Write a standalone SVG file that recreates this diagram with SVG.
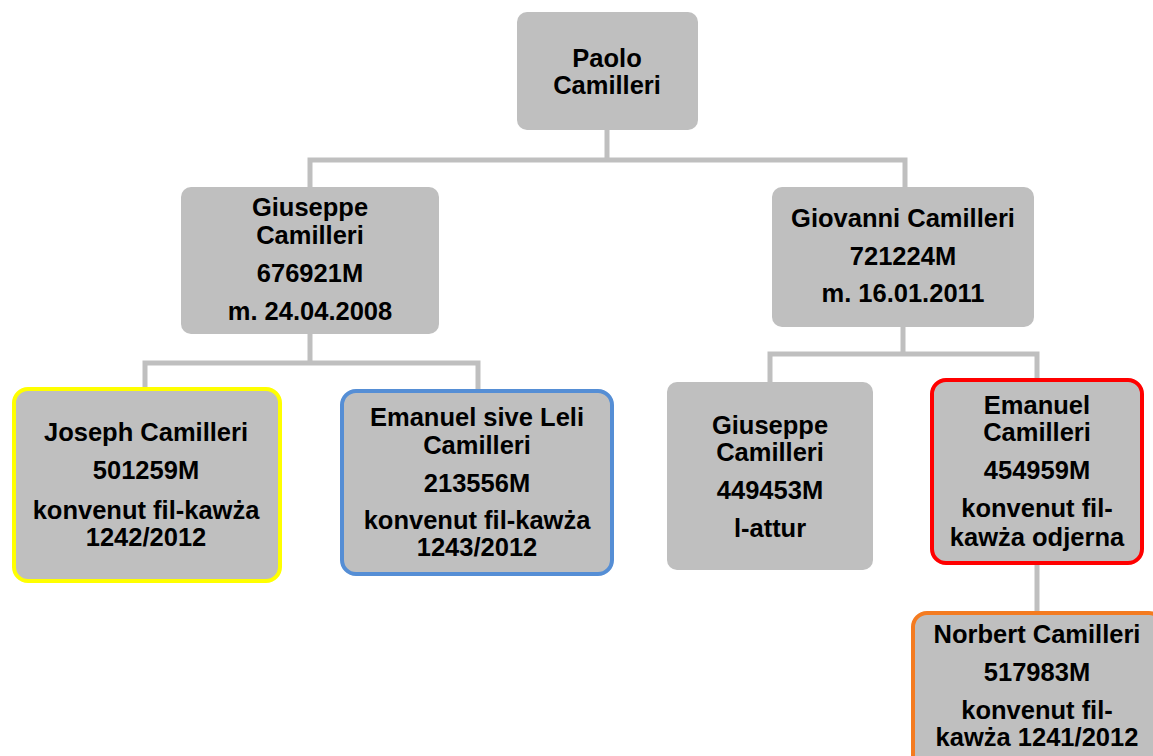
<svg xmlns="http://www.w3.org/2000/svg" width="1153" height="756" viewBox="0 0 1153 756">
<style>
.box{fill:#bfbfbf}
.t{font-family:"Liberation Sans",Arial,sans-serif;font-weight:bold;font-size:25.5px;fill:#000;text-anchor:middle}
.c{fill:none;stroke:#bfbfbf;stroke-width:5}
</style>
<rect width="1153" height="756" fill="#fff"/>
<g id="connectors">
<path class="c" d="M607 130V160M310 187V160H905V187"/>
<path class="c" d="M310 334V363M145 388V363H478V390"/>
<path class="c" d="M903 327V354M770 382V354H1037V380"/>
<path class="c" d="M1037 565V612"/>
</g>
<g id="paolo">
<rect class="box" x="517" y="12" width="181" height="118" rx="10"/>
<text class="t" x="607" y="67">Paolo</text>
<text class="t" x="607" y="94">Camilleri</text>
</g>
<g id="giuseppe">
<rect class="box" x="181" y="187" width="258" height="147" rx="10"/>
<text class="t" x="310" y="216">Giuseppe</text>
<text class="t" x="310" y="244">Camilleri</text>
<text class="t" x="310" y="282">676921M</text>
<text class="t" x="310" y="320">m. 24.04.2008</text>
</g>
<g id="giovanni">
<rect class="box" x="772" y="187" width="262" height="140" rx="10"/>
<text class="t" x="903" y="227">Giovanni Camilleri</text>
<text class="t" x="903" y="265">721224M</text>
<text class="t" x="903" y="302">m. 16.01.2011</text>
</g>
<g id="joseph">
<rect class="box" x="14" y="389" width="266" height="192" rx="14" stroke="#ffff00" stroke-width="4"/>
<text class="t" x="146" y="441">Joseph Camilleri</text>
<text class="t" x="146" y="479">501259M</text>
<text class="t" x="146" y="519">konvenut fil-kawża</text>
<text class="t" x="146" y="546">1242/2012</text>
</g>
<g id="emanuel-leli">
<rect class="box" x="342" y="391" width="270" height="183" rx="14" stroke="#558ed5" stroke-width="4"/>
<text class="t" x="477" y="426">Emanuel sive Leli</text>
<text class="t" x="477" y="454">Camilleri</text>
<text class="t" x="477" y="492">213556M</text>
<text class="t" x="477" y="529">konvenut fil-kawża</text>
<text class="t" x="477" y="556">1243/2012</text>
</g>
<g id="giuseppe2">
<rect class="box" x="667" y="382" width="206" height="188" rx="10"/>
<text class="t" x="770" y="434">Giuseppe</text>
<text class="t" x="770" y="461">Camilleri</text>
<text class="t" x="770" y="499">449453M</text>
<text class="t" x="770" y="537">l-attur</text>
</g>
<g id="emanuel">
<rect class="box" x="932" y="380" width="210" height="183" rx="14" stroke="#ff0000" stroke-width="4"/>
<text class="t" x="1037" y="414">Emanuel</text>
<text class="t" x="1037" y="441">Camilleri</text>
<text class="t" x="1037" y="479">454959M</text>
<text class="t" x="1037" y="517">konvenut fil-</text>
<text class="t" x="1037" y="546">kawża odjerna</text>
</g>
<g id="norbert">
<rect class="box" x="913" y="613" width="250" height="160" rx="14" stroke="#f47b20" stroke-width="4"/>
<text class="t" x="1037" y="643">Norbert Camilleri</text>
<text class="t" x="1037" y="681">517983M</text>
<text class="t" x="1037" y="719">konvenut fil-</text>
<text class="t" x="1037" y="746">kawża 1241/2012</text>
</g>
</svg>
